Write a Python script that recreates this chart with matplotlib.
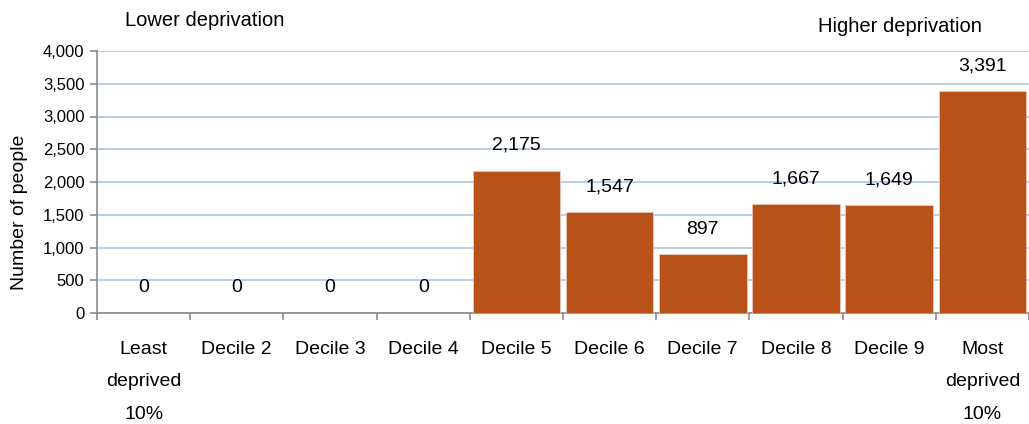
import matplotlib.pyplot as plt
import numpy as np

plt.rcParams["font.family"] = ["Liberation Sans", "DejaVu Sans"]

categories = ["Least\ndeprived\n10%", "Decile 2", "Decile 3", "Decile 4", "Decile 5",
              "Decile 6", "Decile 7", "Decile 8", "Decile 9", "Most\ndeprived\n10%"]
people = [0, 0, 0, 0, 2175, 1547, 897, 1667, 1649, 3391]

BAR_COLOR = "#b85218"
GRID_COLOR = "#b4c9e3"
AXIS_COLOR = "#8c8c8c"

fig = plt.figure(figsize=(10.29, 4.24), dpi=100)
ax = fig.add_axes([97 / 1029, 1 - 313 / 424, 932 / 1029, 262 / 424])

x = np.arange(len(categories))
ax.bar(x, people, width=0.94, color=BAR_COLOR, edgecolor="#e8c8b8", linewidth=0.6, zorder=3)

for xi, v in zip(x, people):
    ax.annotate(f"{v:,}", (xi, v), xytext=(0, 12), textcoords="offset points",
                ha="center", va="bottom", fontsize=14)

ax.set_xlim(-0.5, len(categories) - 0.5)
ax.set_ylim(0, 4000)
ax.set_yticks(np.arange(0, 4001, 500))
ax.set_yticklabels([f"{t:,}" for t in range(0, 4001, 500)], fontsize=12)
ax.yaxis.grid(True, color=GRID_COLOR, linewidth=1.3, zorder=0)
ax.set_axisbelow(True)

ax.set_xticks(np.arange(-0.5, len(categories), 1.0))
ax.set_xticklabels([])
ax.set_xticks(x, minor=True)
ax.set_xticklabels(categories, minor=True, fontsize=14, linespacing=2.2, va="top")
ax.tick_params(axis="x", which="minor", length=0, pad=20)
ax.tick_params(axis="x", which="major", length=5, color=AXIS_COLOR, width=1.2)
ax.tick_params(axis="y", length=5, color=AXIS_COLOR, width=1.2, pad=4)

for side in ["top", "right"]:
    ax.spines[side].set_visible(False)
for side in ["left", "bottom"]:
    ax.spines[side].set_color(AXIS_COLOR)
    ax.spines[side].set_linewidth(1.2)

ax.set_ylabel("Number of people", fontsize=14)
ax.yaxis.set_label_coords(-0.074, 0.385)

fig.text(125 / 1029, 1 - 20 / 424, "Lower deprivation", fontsize=14.5, ha="left", va="center")
fig.text(818 / 1029, 1 - 27 / 424, "Higher deprivation", fontsize=14.5, ha="left", va="center")

plt.savefig("out.png", dpi=100)
